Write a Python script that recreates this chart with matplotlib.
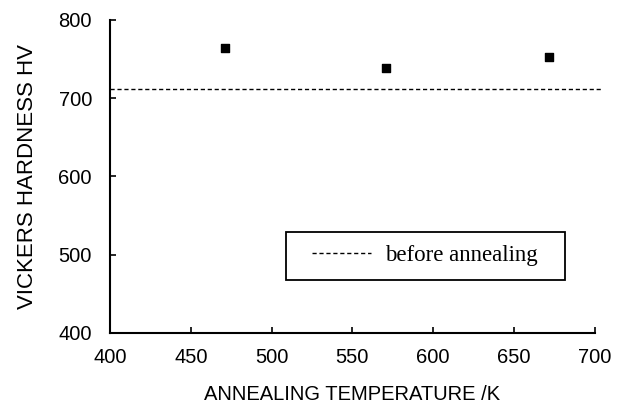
import matplotlib
matplotlib.use("Agg")
import matplotlib.pyplot as plt
from matplotlib.patches import Rectangle

# measured hardness after annealing
temps = [471, 571, 672]
hardness = [764, 738, 752]
before_annealing = 712

x_ticks = [400, 450, 500, 550, 600, 650, 700]
y_ticks = [400, 500, 600, 700, 800]

plt.rcParams['font.family'] = ['Liberation Sans', 'DejaVu Sans']

fig = plt.figure(figsize=(6.32, 4.15), dpi=100)
ax = fig.add_axes([0.174, 0.198, 0.767, 0.754])

ax.scatter(temps, hardness, marker='s', s=26, color='k', zorder=3)
ax.plot([400, 705], [before_annealing, before_annealing], ls=(0, (3, 2)),
        color='k', lw=1.0, clip_on=False, label='before annealing')

ax.set_xlim(400, 700)
ax.set_ylim(400, 800)
ax.set_xticks(x_ticks)
ax.set_yticks(y_ticks)
ax.tick_params(direction='in', length=4, width=1.2, labelsize=14.5)
ax.tick_params(axis='x', pad=11)
ax.tick_params(axis='y', pad=13)
for side in ['top', 'right']:
    ax.spines[side].set_visible(False)
for side in ['left', 'bottom']:
    ax.spines[side].set_linewidth(1.5)

ax.set_xlabel('ANNEALING TEMPERATURE /K', fontsize=14.5, labelpad=13)
ax.set_ylabel('VICKERS HARDNESS HV', fontsize=16, labelpad=15)

# legend box drawn by hand so the padding matches the original
ax.add_patch(Rectangle((0.363, 0.169), 0.575, 0.154, transform=ax.transAxes,
                       fill=True, facecolor='white', edgecolor='k', lw=1.3,
                       zorder=4))
leg = ax.legend(loc='center left', bbox_to_anchor=(0.4165, 0.246),
                frameon=False, borderpad=0, borderaxespad=0,
                prop={'family': 'Liberation Serif', 'size': 16.5},
                handlelength=2.6, handletextpad=0.6)
leg.set_zorder(5)

fig.savefig('out.png', dpi=100)
